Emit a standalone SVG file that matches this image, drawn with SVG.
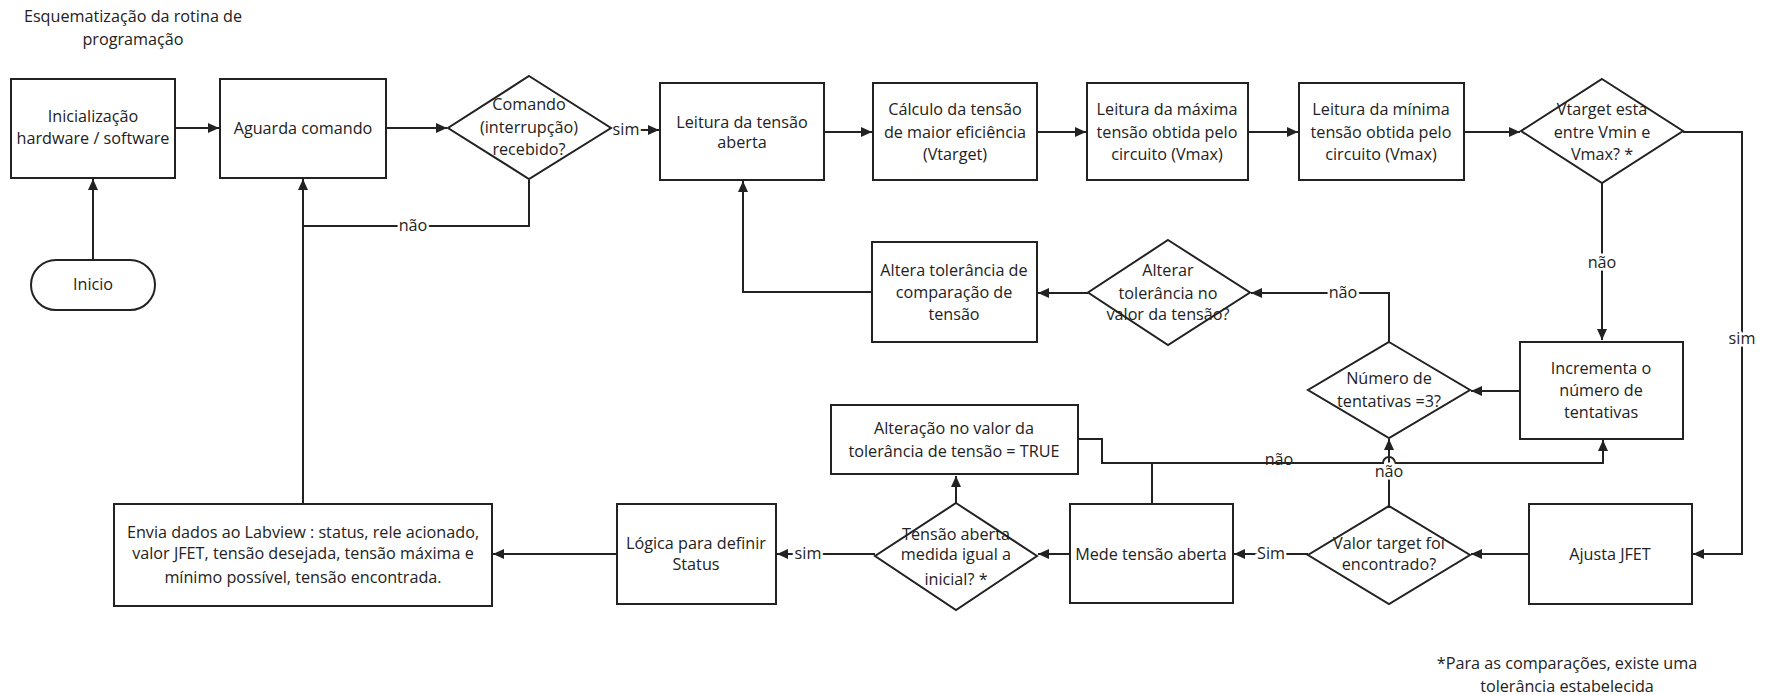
<svg xmlns="http://www.w3.org/2000/svg" width="1768" height="695" viewBox="0 0 1768 695">
<defs>
<style>
.n{fill:#fff;stroke:#222;stroke-width:2}
.c{fill:none;stroke:#222;stroke-width:2}
text{font-family:"Open Sans","Noto Sans","DejaVu Sans",sans-serif;font-size:16.2px;fill:#222;text-anchor:middle}
.lb{stroke:#fff;stroke-width:5;paint-order:stroke}
</style>
<marker id="ar" markerUnits="userSpaceOnUse" markerWidth="12" markerHeight="10" refX="11" refY="5" orient="auto">
<path d="M0,0 L11,5 L0,10 z" fill="#222"/>
</marker>
</defs>
<rect width="1768" height="695" fill="#fff"/>
<g id="title">
<text x="133" y="22">Esquematização da rotina de</text>
<text x="133" y="45">programação</text>
</g>
<g id="connectors">
<path class="c" d="M93,260 V179" marker-end="url(#ar)"/>
<path class="c" d="M175,128 H219" marker-end="url(#ar)"/>
<path class="c" d="M386,128 H447" marker-end="url(#ar)"/>
<path class="c" d="M611,130 H659" marker-end="url(#ar)"/>
<path class="c" d="M529,180 V226 H303"/>
<path class="c" d="M303,504 V179" marker-end="url(#ar)"/>
<path class="c" d="M824,132 H872" marker-end="url(#ar)"/>
<path class="c" d="M1037,132 H1086" marker-end="url(#ar)"/>
<path class="c" d="M1248,132 H1298" marker-end="url(#ar)"/>
<path class="c" d="M1464,132 H1520" marker-end="url(#ar)"/>
<path class="c" d="M1683,132 H1742 V554 H1693" marker-end="url(#ar)"/>
<path class="c" d="M1602,183 V340" marker-end="url(#ar)"/>
<path class="c" d="M1520,391 H1471" marker-end="url(#ar)"/>
<path class="c" d="M1389,342 V293 H1251" marker-end="url(#ar)"/>
<path class="c" d="M1088,293 H1038" marker-end="url(#ar)"/>
<path class="c" d="M872,292 H743 V181" marker-end="url(#ar)"/>
<path class="c" d="M1529,554 H1471" marker-end="url(#ar)"/>
<path class="c" d="M1389,506 V439" marker-end="url(#ar)"/>
<path class="c" d="M1308,554 H1234" marker-end="url(#ar)"/>
<path class="c" d="M1152,504 V463 H1383 A6,6 0 0 1 1395,463 H1603 V440" marker-end="url(#ar)"/>
<path class="c" d="M1078,439 H1102 V463 H1152"/>
<path class="c" d="M1070,554 H1038" marker-end="url(#ar)"/>
<path class="c" d="M956,503 V476" marker-end="url(#ar)"/>
<path class="c" d="M875,554 H777" marker-end="url(#ar)"/>
<path class="c" d="M617,554 H493" marker-end="url(#ar)"/>
<text class="lb" x="626" y="135">sim</text>
<text class="lb" x="413" y="231">não</text>
<text class="lb" x="1742" y="344">sim</text>
<text class="lb" x="1602" y="268">não</text>
<text class="lb" x="1343" y="298">não</text>
<text class="lb" x="1389" y="477">não</text>
<text x="1279" y="465">não</text>
<text class="lb" x="1271" y="559">Sim</text>
<text class="lb" x="808" y="559">sim</text>
</g>
<g id="inicio">
<rect class="n" x="31" y="260" width="124" height="50" rx="25"/>
<text x="93" y="290">Inicio</text>
</g>
<g id="inicializacao">
<rect class="n" x="11" y="79" width="164" height="99"/>
<text x="93" y="122">Inicialização</text>
<text x="93" y="144">hardware / software</text>
</g>
<g id="aguarda">
<rect class="n" x="220" y="79" width="166" height="99"/>
<text x="303" y="134">Aguarda comando</text>
</g>
<g id="comando">
<polygon class="n" points="529,76 611,128 529,179 448,128"/>
<text x="529" y="110">Comando</text>
<text x="529" y="133">(interrupção)</text>
<text x="529" y="155">recebido?</text>
</g>
<g id="leitura-aberta">
<rect class="n" x="660" y="83" width="164" height="97"/>
<text x="742" y="128">Leitura da tensão</text>
<text x="742" y="148">aberta</text>
</g>
<g id="calculo">
<rect class="n" x="873" y="83" width="164" height="97"/>
<text x="955" y="115">Cálculo da tensão</text>
<text x="955" y="138">de maior eficiência</text>
<text x="955" y="160">(Vtarget)</text>
</g>
<g id="leitura-maxima">
<rect class="n" x="1087" y="83" width="161" height="97"/>
<text x="1167" y="115">Leitura da máxima</text>
<text x="1167" y="138">tensão obtida pelo</text>
<text x="1167" y="160">circuito (Vmax)</text>
</g>
<g id="leitura-minima">
<rect class="n" x="1299" y="83" width="165" height="97"/>
<text x="1381" y="115">Leitura da mínima</text>
<text x="1381" y="138">tensão obtida pelo</text>
<text x="1381" y="160">circuito (Vmax)</text>
</g>
<g id="vtarget">
<polygon class="n" points="1602,79 1683,131 1602,183 1521,131"/>
<text x="1602" y="115">Vtarget esta</text>
<text x="1602" y="138">entre Vmin e</text>
<text x="1602" y="160">Vmax? *</text>
</g>
<g id="incrementa">
<rect class="n" x="1520" y="342" width="163" height="97"/>
<text x="1601" y="374">Incrementa o</text>
<text x="1601" y="396">número de</text>
<text x="1601" y="418">tentativas</text>
</g>
<g id="numero">
<polygon class="n" points="1389,342 1470,390 1389,438 1308,390"/>
<text x="1389" y="384">Número de</text>
<text x="1389" y="407">tentativas =3?</text>
</g>
<g id="alterar">
<polygon class="n" points="1168,240 1250,292.5 1168,345 1088,292.5"/>
<text x="1168" y="276">Alterar</text>
<text x="1168" y="299">tolerância no</text>
<text x="1168" y="320">valor da tensão?</text>
</g>
<g id="altera">
<rect class="n" x="872" y="242" width="165" height="100"/>
<text x="954" y="276">Altera tolerância de</text>
<text x="954" y="298">comparação de</text>
<text x="954" y="320">tensão</text>
</g>
<g id="alteracao">
<rect class="n" x="831" y="405" width="247" height="69"/>
<text x="954" y="434">Alteração no valor da</text>
<text x="954" y="457">tolerância de tensão = TRUE</text>
</g>
<g id="mede">
<rect class="n" x="1070" y="504" width="163" height="99"/>
<text x="1151" y="560">Mede tensão aberta</text>
</g>
<g id="valor">
<polygon class="n" points="1389,506 1470,555 1389,604 1308,555"/>
<text x="1389" y="549">Valor target foi</text>
<text x="1389" y="570">encontrado?</text>
</g>
<g id="ajusta">
<rect class="n" x="1529" y="504" width="163" height="100"/>
<text x="1610" y="560">Ajusta JFET</text>
</g>
<g id="tensao-aberta">
<polygon class="n" points="956,503 1037,556 956,610 875,556"/>
<text x="956" y="540">Tensão aberta</text>
<text x="956" y="560">medida igual a</text>
<text x="956" y="585">inicial? *</text>
</g>
<g id="logica">
<rect class="n" x="617" y="504" width="159" height="100"/>
<text x="696" y="549">Lógica para definir</text>
<text x="696" y="570">Status</text>
</g>
<g id="envia">
<rect class="n" x="114" y="504" width="378" height="102"/>
<text x="303" y="538">Envia dados ao Labview : status, rele acionado,</text>
<text x="303" y="559">valor JFET, tensão desejada, tensão máxima e</text>
<text x="303" y="583">mínimo possível, tensão encontrada.</text>
</g>
<g id="footnote">
<text x="1567" y="669">*Para as comparações, existe uma</text>
<text x="1567" y="692">tolerância estabelecida</text>
</g>
</svg>
